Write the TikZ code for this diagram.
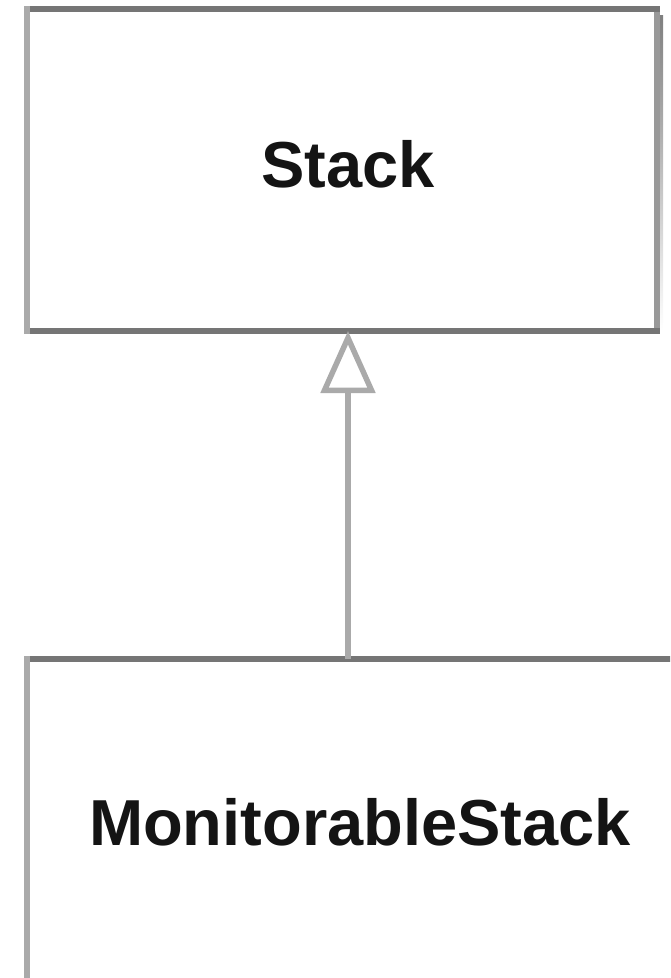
\documentclass[tikz,border=0pt]{standalone}
\usepackage{fontspec}
\setmainfont{Liberation Sans}
\usetikzlibrary{arrows.meta}

\definecolor{hedge}{RGB}{117,117,117}
\definecolor{vedge}{RGB}{170,170,170}
\definecolor{shade}{RGB}{205,205,205}
\definecolor{ink}{RGB}{20,20,20}

\tikzset{
  classbox/.style={rectangle, draw=none, inner sep=0pt, outer sep=3pt},
  topline/.style={draw=hedge, line width=6pt},
  sideline/.style={draw=vedge, line width=6pt},
  classname/.style={anchor=base, inner sep=0pt, text=ink,
    font=\fontsize{65}{78}\selectfont\bfseries},
  inherit/.style={draw=vedge, line width=5.5pt,
    -{Triangle[open, length=62pt, width=54pt]}},
}

\begin{document}
\begin{tikzpicture}[x=1pt, y=-1pt]
  \useasboundingbox (0,0) rectangle (670,978);
  \clip (0,0) rectangle (670,978);

  % superclass box
  \node[classbox, minimum width=624pt, minimum height=316pt] (stack) at (342,170) {};
  \fill[shade] (657,15) rectangle (663,331);
  \draw[sideline] ([yshift=3pt]stack.north west) -- ([yshift=-3pt]stack.south west);
  \draw[sideline, draw=vedge!90!black] ([yshift=3pt]stack.north east) -- ([yshift=-3pt]stack.south east);
  \draw[topline] ([xshift=3pt]stack.north west) -- ([xshift=3pt]stack.north east);
  \draw[topline] ([xshift=3pt]stack.south west) -- ([xshift=3pt]stack.south east);
  \node[classname] (stacklabel) at (348,187) {Stack};

  % subclass box, running past the lower edge
  \node[classbox, minimum width=639pt, minimum height=400pt] (monitor) at (349.5,862) {};
  \draw[sideline] ([yshift=3pt]monitor.north west) -- ([yshift=-3pt]monitor.south west);
  \draw[draw=hedge, line width=1.5pt] (monitor.north east) -- (monitor.south east);
  \draw[topline] ([xshift=3pt]monitor.north west) -- (monitor.north east);
  \node[classname] (monitorlabel) at (360,845) {MonitorableStack};

  % generalisation arrow
  \draw[inherit] (monitor.north -| 348,0) -- (stack.south -| 348,0);
\end{tikzpicture}
\end{document}
